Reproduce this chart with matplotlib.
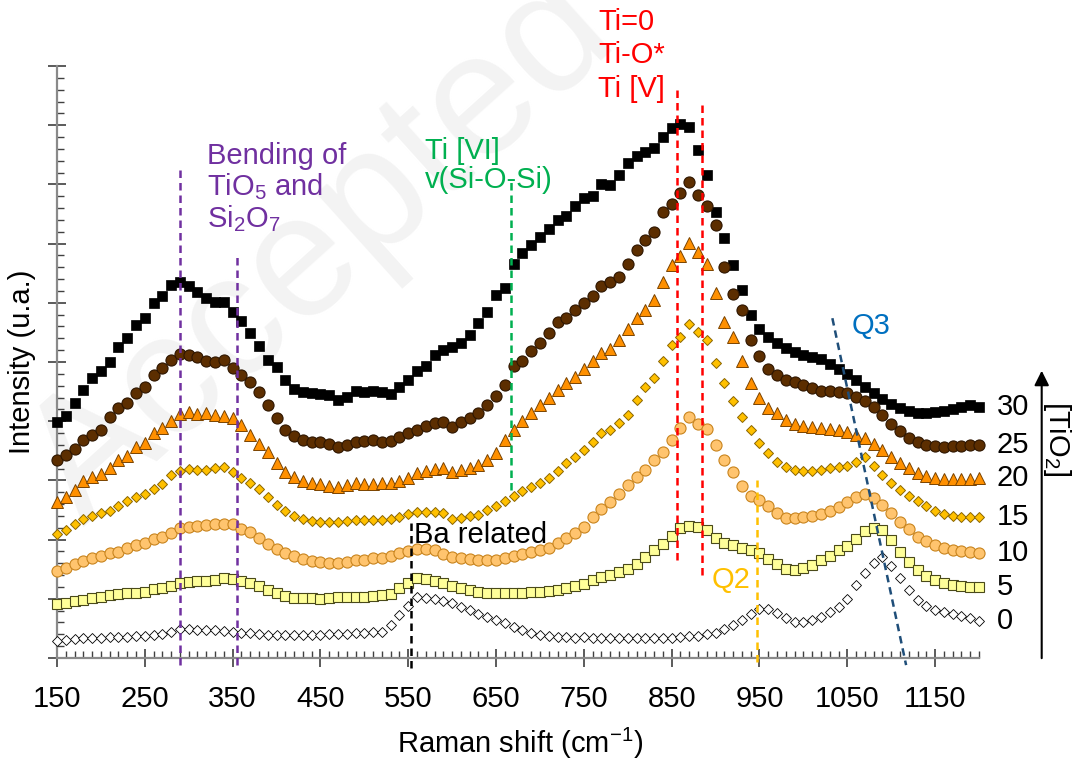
"""Raman spectra of the BaO-TiO2-SiO2 glasses, stacked by TiO2 content."""
import numpy as np
import matplotlib
matplotlib.use("Agg")
import matplotlib.pyplot as plt

plt.rcParams.update({
    "font.family": ["Liberation Sans", "DejaVu Sans"],
    "font.size": 21,
    "mathtext.fontset": "custom",
    "mathtext.rm": "Liberation Sans",
})

# Raman shift grid (cm-1)
shift = np.arange(150, 1201, 10)

# intensities (offset, a.u.)
int_30 = [3.99, 4.09, 4.31, 4.53, 4.73, 4.85, 5.00, 5.25, 5.41, 5.63,
          5.74, 6.00, 6.11, 6.30, 6.35, 6.28, 6.18, 6.08, 6.01, 6.01,
          5.84, 5.69, 5.49, 5.27, 5.03, 4.92, 4.70, 4.54, 4.49, 4.48,
          4.46, 4.44, 4.36, 4.41, 4.51, 4.49, 4.51, 4.49, 4.46, 4.58,
          4.70, 4.85, 4.93, 5.12, 5.20, 5.25, 5.32, 5.46, 5.66, 5.84,
          6.13, 6.25, 6.66, 6.84, 6.98, 7.11, 7.25, 7.40, 7.47, 7.64,
          7.77, 7.80, 8.01, 7.99, 8.16, 8.36, 8.48, 8.55, 8.61, 8.80,
          8.95, 9.02, 8.97, 8.58, 8.16, 7.53, 7.09, 6.64, 6.22, 5.79,
          5.56, 5.42, 5.32, 5.24, 5.17, 5.12, 5.08, 5.05, 4.97, 4.88,
          4.80, 4.70, 4.58, 4.48, 4.38, 4.29, 4.22, 4.17, 4.14, 4.14,
          4.15, 4.17, 4.21, 4.24, 4.27, 4.24]
int_25 = [3.34, 3.43, 3.53, 3.68, 3.77, 3.85, 4.07, 4.22, 4.31, 4.48,
          4.58, 4.78, 4.90, 5.03, 5.14, 5.12, 5.08, 5.02, 5.00, 5.03,
          4.90, 4.78, 4.66, 4.49, 4.27, 4.05, 3.85, 3.75, 3.68, 3.65,
          3.65, 3.61, 3.56, 3.60, 3.65, 3.67, 3.68, 3.65, 3.67, 3.73,
          3.80, 3.85, 3.92, 3.97, 3.99, 3.90, 3.99, 4.05, 4.14, 4.27,
          4.43, 4.61, 4.93, 5.02, 5.19, 5.32, 5.49, 5.68, 5.74, 5.88,
          6.00, 6.11, 6.28, 6.35, 6.44, 6.66, 6.89, 7.06, 7.20, 7.53,
          7.67, 7.85, 8.04, 7.82, 7.64, 7.31, 6.60, 6.15, 5.88, 5.37,
          5.10, 4.88, 4.78, 4.70, 4.66, 4.61, 4.56, 4.51, 4.51, 4.49,
          4.48, 4.41, 4.34, 4.24, 4.10, 3.95, 3.83, 3.72, 3.65, 3.60,
          3.58, 3.56, 3.58, 3.58, 3.60, 3.60]
int_20 = [2.64, 2.72, 2.84, 2.99, 3.06, 3.11, 3.21, 3.34, 3.41, 3.56,
          3.63, 3.80, 3.89, 4.00, 4.12, 4.16, 4.12, 4.14, 4.10, 4.09,
          4.05, 3.94, 3.77, 3.61, 3.48, 3.29, 3.14, 3.06, 2.99, 2.96,
          2.94, 2.91, 2.89, 2.92, 2.96, 2.94, 2.94, 2.96, 2.96, 2.99,
          3.04, 3.12, 3.16, 3.19, 3.21, 3.14, 3.18, 3.21, 3.26, 3.34,
          3.46, 3.68, 3.85, 4.00, 4.14, 4.27, 4.39, 4.53, 4.65, 4.75,
          4.88, 5.02, 5.15, 5.22, 5.37, 5.56, 5.74, 5.88, 6.05, 6.35,
          6.64, 6.79, 7.01, 6.86, 6.66, 6.17, 5.68, 5.42, 5.02, 4.65,
          4.39, 4.22, 4.14, 4.02, 3.95, 3.92, 3.90, 3.89, 3.87, 3.85,
          3.82, 3.77, 3.72, 3.61, 3.51, 3.40, 3.29, 3.21, 3.13, 3.07,
          3.04, 3.02, 3.02, 3.02, 3.02, 3.04]
int_15 = [2.09, 2.16, 2.26, 2.35, 2.40, 2.45, 2.48, 2.57, 2.65, 2.72,
          2.77, 2.85, 2.94, 3.09, 3.16, 3.19, 3.18, 3.18, 3.21, 3.23,
          3.14, 3.04, 2.96, 2.85, 2.72, 2.58, 2.48, 2.40, 2.35, 2.31,
          2.30, 2.30, 2.30, 2.31, 2.33, 2.33, 2.33, 2.33, 2.35, 2.38,
          2.43, 2.47, 2.47, 2.47, 2.45, 2.35, 2.36, 2.40, 2.41, 2.50,
          2.57, 2.65, 2.74, 2.82, 2.89, 2.96, 3.04, 3.16, 3.29, 3.40,
          3.51, 3.65, 3.80, 3.85, 3.97, 4.10, 4.36, 4.58, 4.73, 5.02,
          5.29, 5.42, 5.64, 5.51, 5.37, 4.98, 4.65, 4.34, 4.07, 3.85,
          3.63, 3.46, 3.31, 3.23, 3.18, 3.16, 3.16, 3.18, 3.21, 3.23,
          3.24, 3.31, 3.39, 3.24, 3.09, 2.96, 2.84, 2.74, 2.65, 2.57,
          2.48, 2.43, 2.40, 2.38, 2.38, 2.38]
int_10 = [1.47, 1.52, 1.59, 1.64, 1.69, 1.72, 1.77, 1.79, 1.86, 1.91,
          1.94, 2.01, 2.04, 2.11, 2.20, 2.21, 2.23, 2.25, 2.26, 2.26,
          2.26, 2.18, 2.13, 2.03, 1.93, 1.84, 1.77, 1.72, 1.67, 1.64,
          1.62, 1.60, 1.60, 1.62, 1.66, 1.66, 1.69, 1.69, 1.72, 1.77,
          1.81, 1.84, 1.84, 1.82, 1.76, 1.71, 1.69, 1.67, 1.66, 1.66,
          1.66, 1.69, 1.72, 1.76, 1.79, 1.82, 1.86, 1.94, 2.03, 2.11,
          2.21, 2.38, 2.52, 2.64, 2.77, 2.92, 3.06, 3.18, 3.34, 3.48,
          3.68, 3.89, 4.07, 3.95, 3.87, 3.60, 3.34, 3.14, 2.91, 2.74,
          2.67, 2.57, 2.45, 2.36, 2.36, 2.38, 2.40, 2.43, 2.48, 2.55,
          2.64, 2.72, 2.77, 2.70, 2.58, 2.45, 2.30, 2.18, 2.04, 1.98,
          1.91, 1.86, 1.82, 1.81, 1.79, 1.77]
int_5 = [0.91, 0.93, 0.96, 0.98, 1.01, 1.03, 1.06, 1.08, 1.10, 1.10,
         1.11, 1.17, 1.18, 1.22, 1.27, 1.28, 1.30, 1.30, 1.32, 1.35,
         1.33, 1.30, 1.27, 1.22, 1.15, 1.10, 1.05, 1.01, 1.01, 1.01,
         1.00, 1.01, 1.03, 1.03, 1.03, 1.03, 1.05, 1.06, 1.08, 1.18,
         1.27, 1.35, 1.33, 1.30, 1.27, 1.22, 1.18, 1.15, 1.11, 1.10,
         1.10, 1.10, 1.10, 1.10, 1.11, 1.11, 1.13, 1.15, 1.18, 1.22,
         1.25, 1.31, 1.37, 1.41, 1.46, 1.51, 1.59, 1.71, 1.82, 1.93,
         2.06, 2.20, 2.23, 2.21, 2.16, 2.03, 1.94, 1.91, 1.86, 1.82,
         1.77, 1.67, 1.59, 1.50, 1.49, 1.52, 1.57, 1.66, 1.72, 1.82,
         1.89, 2.01, 2.15, 2.20, 2.16, 1.99, 1.79, 1.62, 1.49, 1.39,
         1.32, 1.27, 1.23, 1.22, 1.20, 1.20]
int_0 = [0.29, 0.30, 0.32, 0.34, 0.34, 0.34, 0.35, 0.35, 0.35, 0.37,
         0.37, 0.39, 0.41, 0.44, 0.49, 0.49, 0.47, 0.47, 0.47, 0.46,
         0.44, 0.42, 0.42, 0.41, 0.39, 0.39, 0.39, 0.39, 0.39, 0.39,
         0.39, 0.41, 0.41, 0.41, 0.42, 0.42, 0.44, 0.44, 0.56, 0.73,
         0.88, 1.03, 1.01, 1.00, 0.96, 0.93, 0.86, 0.81, 0.74, 0.69,
         0.64, 0.59, 0.52, 0.47, 0.42, 0.39, 0.37, 0.35, 0.35, 0.34,
         0.35, 0.34, 0.34, 0.34, 0.34, 0.34, 0.34, 0.34, 0.34, 0.34,
         0.34, 0.35, 0.37, 0.37, 0.41, 0.42, 0.49, 0.56, 0.64, 0.74,
         0.83, 0.83, 0.76, 0.68, 0.61, 0.61, 0.64, 0.69, 0.78, 0.86,
         1.00, 1.23, 1.44, 1.60, 1.71, 1.55, 1.35, 1.15, 0.98, 0.88,
         0.81, 0.78, 0.74, 0.71, 0.68, 0.63]

# band assignments (cm-1)
bend_bands = [290, 355]
ba_band = 553
si_band = 667
ti_bands = [856, 884]
q2_band = 947
q3_band = [1033, 1117]

series = [
    (30, int_30, dict(marker="s", ms=7.5, mfc="black", mec="black", mew=0.5)),
    (25, int_25, dict(marker="o", ms=8, mfc="#5c2e00", mec="#2e1600", mew=0.8)),
    (20, int_20, dict(marker="^", ms=8, mfc="#ff9000", mec="#7a4300", mew=0.7)),
    (15, int_15, dict(marker="D", ms=5, mfc="#ffc000", mec="#8a6500", mew=0.7)),
    (10, int_10, dict(marker="o", ms=8, mfc="#ffc46e", mec="#c8841e", mew=0.8)),
    (5, int_5, dict(marker="s", ms=7.5, mfc="#ffff99", mec="#4a4a1a", mew=0.8)),
    (0, int_0, dict(marker="D", ms=5, mfc="white", mec="black", mew=0.6)),
]
for lab, ys, st in series:
    assert len(ys) == len(shift), lab

fig = plt.figure(figsize=(10.75, 7.6), dpi=100)
ax = fig.add_axes([57 / 1075, 1 - 658 / 760, 922 / 1075, 592 / 760])
ax.patch.set_alpha(0)

# faint watermark of the source page, kept behind everything
fig.text(0.30, 0.67, "Accepted", rotation=42, fontsize=125, color="#f3f3f3",
         ha="center", va="center", zorder=-5)

for lab, ys, st in series:
    ax.plot(shift, ys, ls="none", zorder=3, clip_on=False, **st)
    ax.text(1220, ys[-1], str(lab), ha="left", va="center", fontsize=21, clip_on=False)

# dashed band markers
dash = dict(ls=(0, (3, 2)), lw=1.8, zorder=6, clip_on=False)
for b, top in zip(bend_bands, [8.24, 6.84]):
    ax.plot([b, b], [-0.12, top], color="#7030a0", **dash)
ax.plot([ba_band, ba_band], [-0.17, 2.3], color="black", **dash)
ax.plot([si_band, si_band], [2.84, 8.04], color="#00b050", **dash)
ax.plot([ti_bands[0]] * 2, [1.66, 9.59], color="red", **dash)
ax.plot([ti_bands[1]] * 2, [1.40, 9.38], color="red", **dash)
ax.plot([q2_band, q2_band], [-0.07, 3.0], color="#ffc000", **dash)
ax.plot(q3_band, [5.74, -0.12], color="#1f4e79", **dash)

ax.text(321, 8.72, "Bending of\nTiO$\\mathregular{_5}$ and\nSi$\\mathregular{_2}$O$\\mathregular{_7}$",
        color="#7030a0", va="top", ha="left", linespacing=1.05)
ax.text(569, 8.8, "Ti [VI]\nv(Si-O-Si)", color="#00b050", va="top", ha="left", linespacing=1.05)
ax.text(766, 10.98, "Ti=0\nTi-O*\nTi [V]", color="red", va="top", ha="left",
        linespacing=1.25, clip_on=False)
ax.text(557, 2.08, "Ba related", color="black", va="center", ha="left")
ax.text(895, 1.32, "Q2", color="#ffc000", va="center", ha="left")
ax.text(1055, 5.61, "Q3", color="#0070c0", va="center", ha="left")

# TiO2 content arrow on the right
ax.annotate("", xy=(1.068, 0.49), xytext=(1.068, -0.005), xycoords="axes fraction",
            arrowprops=dict(arrowstyle="-|>", color="black", lw=1.5, mutation_scale=22),
            annotation_clip=False)
ax.text(1.085, 0.37, "[TiO$\\mathregular{_2}$]", rotation=-90, transform=ax.transAxes,
        ha="center", va="center", fontsize=21)

ax.set_xlim(150, 1200)
ax.set_ylim(0, 10)
ax.set_xticks(np.arange(150, 1151, 100))
ax.set_xticks(np.arange(150, 1201, 10), minor=True)
ax.set_yticks(np.arange(0, 11, 1))
ax.set_yticks(np.arange(0, 10.01, 0.2), minor=True)
ax.tick_params(which="major", direction="inout", length=13, width=1.2, color="#404040")
ax.tick_params(which="minor", direction="in", length=5, width=1.0, color="#404040")
ax.tick_params(axis="x", pad=13, labelsize=21)
ax.tick_params(axis="y", labelleft=False)
for s in ["top", "right"]:
    ax.spines[s].set_visible(False)
for s in ["left", "bottom"]:
    ax.spines[s].set_color("#8a8a8a")
    ax.spines[s].set_linewidth(1.6)

ax.set_xlabel("Raman shift (cm$\\mathregular{^{-1}}$)", fontsize=21)
ax.xaxis.set_label_coords((520 - 57) / 922, -(743 - 658) / 592)
ax.xaxis.label.set_va("center")
ax.set_ylabel("Intensity (u.a.)", fontsize=21)
ax.yaxis.set_label_coords(-0.023, 0.5)

fig.savefig("out.png", dpi=100)
